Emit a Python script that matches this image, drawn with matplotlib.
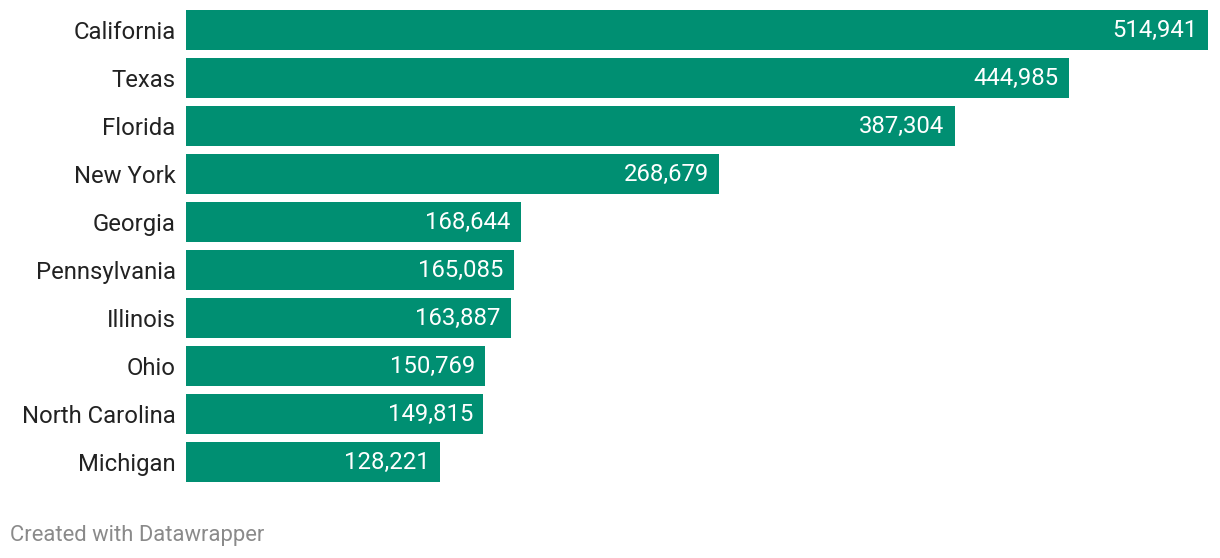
import matplotlib.pyplot as plt

states = ['California', 'Texas', 'Florida', 'New York', 'Georgia', 'Pennsylvania',
          'Illinois', 'Ohio', 'North Carolina', 'Michigan']
values = [514941, 444985, 387304, 268679, 168644, 165085, 163887, 150769, 149815, 128221]

bar_color = '#008f72'
plt.rcParams['font.family'] = ['Roboto', 'DejaVu Sans']

fig = plt.figure(figsize=(12.2, 5.58), dpi=100)
# axes placed to match pixel layout: 48px per row, bars 40px tall starting at y=10
ax = fig.add_axes([186 / 1220, 1 - 486 / 558, 1022 / 1220, 480 / 558])

ypos = list(range(len(states)))
ax.barh(ypos, values, height=40 / 48, color=bar_color)
ax.set_xlim(0, max(values))
ax.set_ylim(len(states) - 0.5, -0.5)

ax.set_yticks(ypos)
ax.set_yticklabels(states, fontsize=17.2, color='#222222')
ax.tick_params(axis='y', length=0, pad=7.5)
ax.set_xticks([])
for s in ax.spines.values():
    s.set_visible(False)

for y, v in zip(ypos, values):
    ax.annotate(f'{v:,}', (v, y), xytext=(-7.5, 0), textcoords='offset points',
                ha='right', va='center', color='white', fontsize=17.2)

fig.text(10 / 1220, 1 - 535 / 558, 'Created with Datawrapper', color='#8a8a8a',
         fontsize=15.8, va='center', ha='left')

fig.savefig('out.png', dpi=100)
